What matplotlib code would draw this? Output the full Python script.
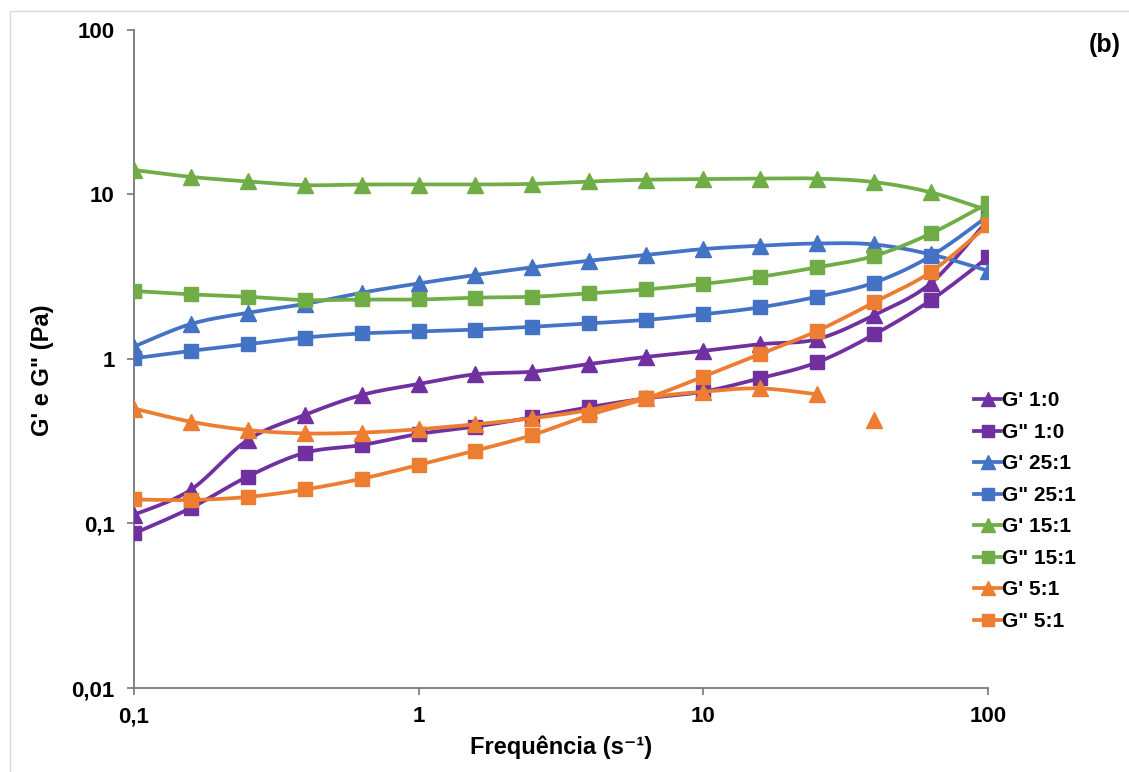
import numpy as np
import matplotlib
matplotlib.use("Agg")
import matplotlib.pyplot as plt
from matplotlib.lines import Line2D
from matplotlib.patches import Rectangle

plt.rcParams['font.family'] = ['Liberation Sans', 'DejaVu Sans']
plt.rcParams['font.weight'] = 'bold'

# frequencias (s-1)
freq = [0.1, 0.158, 0.251, 0.398, 0.631, 1.0, 1.58, 2.51, 3.98, 6.31,
        10.0, 15.8, 25.1, 39.8, 63.1, 100.0]

gp_10 = [0.113, 0.16, 0.322, 0.457, 0.604, 0.705, 0.807, 0.838, 0.933, 1.03,
         1.12, 1.23, 1.32, 1.85, 2.9, 7.0]
gpp_10 = [0.087, 0.124, 0.193, 0.269, 0.300, 0.350, 0.388, 0.442, 0.51, 0.577,
          0.633, 0.763, 0.954, 1.41, 2.28, 4.15]
gp_251 = [1.19, 1.63, 1.91, 2.16, 2.53, 2.88, 3.24, 3.61, 3.96, 4.29,
          4.66, 4.88, 5.04, 4.97, 4.32, 3.44]
gpp_251 = [1.01, 1.12, 1.23, 1.35, 1.43, 1.47, 1.51, 1.57, 1.65, 1.73,
           1.87, 2.06, 2.39, 2.91, 4.23, 7.4]
gp_151 = [14.1, 12.8, 12.0, 11.4, 11.5, 11.5, 11.5, 11.6, 12.0, 12.3,
          12.4, 12.5, 12.5, 11.9, 10.3, 8.0]
gpp_151 = [2.59, 2.47, 2.39, 2.28, 2.30, 2.30, 2.36, 2.39, 2.51, 2.65,
           2.86, 3.16, 3.61, 4.23, 5.8, 8.85]
gp_51 = [0.50, 0.416, 0.37, 0.353, 0.357, 0.374, 0.401, 0.436, 0.49, 0.58,
         0.633, 0.663, 0.61]
gp_51_solto = (39.8, 0.426)   # ponto isolado, sem linha
gpp_51 = [0.140, 0.139, 0.145, 0.161, 0.187, 0.227, 0.277, 0.345, 0.457, 0.577,
          0.781, 1.07, 1.48, 2.21, 3.39, 6.53]

roxo = '#7030A0'
azul = '#4472C4'
verde = '#70AD47'
laranja = '#ED7D31'

series = [
    ("G' 1:0", gp_10, roxo, '^'),
    ('G" 1:0', gpp_10, roxo, 's'),
    ("G' 25:1", gp_251, azul, '^'),
    ('G" 25:1', gpp_251, azul, 's'),
    ("G' 15:1", gp_151, verde, '^'),
    ('G" 15:1', gpp_151, verde, 's'),
    ("G' 5:1", gp_51, laranja, '^'),
    ('G" 5:1', gpp_51, laranja, 's'),
]


def suave(x, y, n=30):
    # curva suavizada estilo Excel (bezier) no espaco log
    lx = np.log10(x)
    ly = np.log10(y)
    P = np.column_stack([lx, ly])
    out = []
    for i in range(len(P) - 1):
        p0 = P[i - 1] if i > 0 else P[i]
        p1 = P[i]
        p2 = P[i + 1]
        p3 = P[i + 2] if i + 2 < len(P) else P[i + 1]
        c1 = p1 + (p2 - p0) / 6.0
        c2 = p2 - (p3 - p1) / 6.0
        t = np.linspace(0, 1, n)[:, None]
        b = ((1 - t) ** 3) * p1 + 3 * ((1 - t) ** 2) * t * c1 + 3 * (1 - t) * t ** 2 * c2 + t ** 3 * p2
        out.append(b)
    out = np.vstack(out)
    return 10 ** out[:, 0], 10 ** out[:, 1]


fig = plt.figure(figsize=(11.29, 7.72), dpi=100)
ax = fig.add_axes([134 / 1129, 1 - 688 / 772, (988 - 134) / 1129, (688 - 30) / 772])

handles = []
z = 3
for nome, vals, cor, mk in series:
    xs = freq[:len(vals)]
    sx, sy = suave(xs, vals)
    ax.plot(sx, sy, color=cor, lw=2.7, zorder=z, solid_capstyle='round')
    ms = 11.5 if mk == '^' else 10
    ax.plot(xs, vals, ls='none', marker=mk, ms=ms, color=cor, mec=cor, zorder=z + 0.5)
    handles.append(Line2D([0], [0], color=cor, lw=2.7, marker=mk, ms=ms - 1.5))
    z += 1

ax.plot([gp_51_solto[0]], [gp_51_solto[1]], ls='none', marker='^', ms=11.5,
        color=laranja, zorder=z)

ax.set_xscale('log')
ax.set_yscale('log')
ax.set_xlim(0.1, 100)
ax.set_ylim(0.01, 100)

ax.set_xticks([0.1, 1, 10, 100])
ax.set_xticklabels(['0,1', '1', '10', '100'])
ax.set_yticks([0.01, 0.1, 1, 10, 100])
ax.set_yticklabels(['0,01', '0,1', '1', '10', '100'])
ax.minorticks_off()
ax.tick_params(axis='both', direction='out', length=5, width=1.2, color='#777777',
               labelsize=16)
ax.tick_params(axis='y', pad=9)
ax.tick_params(axis='x', pad=8)
for lab in ax.get_xticklabels() + ax.get_yticklabels():
    lab.set_fontweight('bold')

for s in ['top', 'right']:
    ax.spines[s].set_visible(False)
for s in ['left', 'bottom']:
    ax.spines[s].set_color('#777777')
    ax.spines[s].set_linewidth(1.3)

ax.set_xlabel('Frequência (s⁻¹)', fontsize=17, fontweight='bold', labelpad=6)
ax.set_ylabel('G\' e G" (Pa)', fontsize=17, fontweight='bold')
ax.yaxis.set_label_coords(-0.094, 0.483)

leg = fig.legend(handles, [s[0] for s in series], loc='upper left',
                 bbox_to_anchor=(966 / 1129, 1 - 383 / 772), frameon=False,
                 fontsize=15, handlelength=1.3, handletextpad=0.05,
                 labelspacing=0.6, borderaxespad=0)
for t in leg.get_texts():
    t.set_fontweight('bold')

fig.text(1105 / 1129, 1 - 45 / 772, '(b)', fontsize=18, fontweight='bold',
         ha='center', va='center')

fig.patches.append(Rectangle((10 / 1129, -0.1), 1.2, 1 - 11 / 772 + 0.1,
                             transform=fig.transFigure, fill=False,
                             edgecolor='#d9d9d9', lw=1.0))

fig.savefig('out.png', dpi=100)
